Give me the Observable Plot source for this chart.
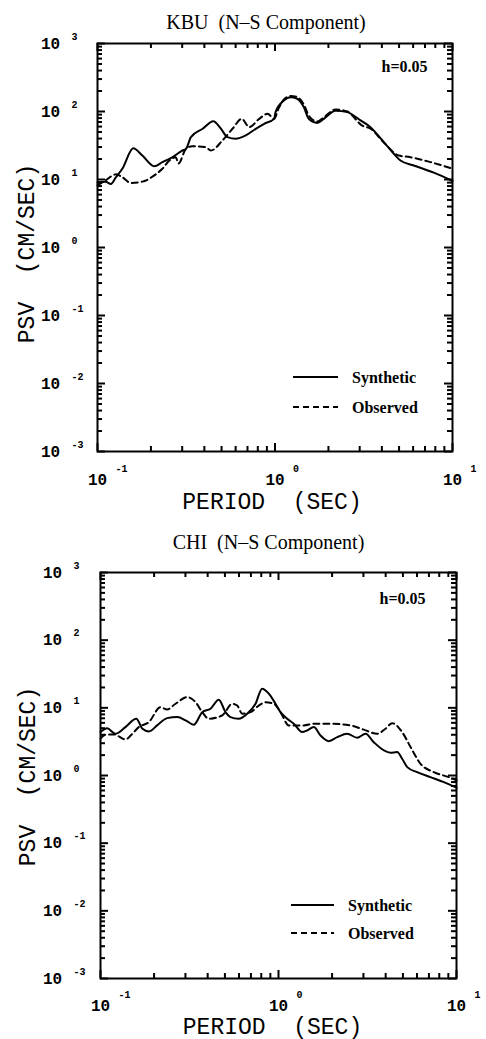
<!DOCTYPE html>
<html><head><meta charset="utf-8">
<script src="https://cdn.jsdelivr.net/npm/d3@7"></script>
<script src="https://cdn.jsdelivr.net/npm/@observablehq/plot@0.6"></script>
<style>
body{margin:0;background:#fff;}
#wrap{width:486px;height:1039px;overflow:hidden;background:#fff;}
#wrap svg{display:block;}
</style>
</head><body><div id="wrap"></div>
<script>
// ---------- data ----------
const kbuSynT = [0.1,0.111,0.119,0.127,0.138,0.159,0.179,0.209,0.232,0.265,0.301,0.315,0.336,0.391,0.449,0.496,0.540,0.601,0.684,0.779,0.869,0.989,1.007,1.122,1.222,1.334,1.453,1.550,1.728,1.884,2.193,2.552,3.033,3.451,4.103,4.67,5.09,6.05,7.85,10];
const kbuSynV = [9.1,9.3,8.6,10.8,14.4,28.8,22.5,15.7,18,21.3,26.7,28.2,41.9,55.7,72,55.7,41.9,39.7,44.4,55.7,66,78,97.8,145,162,154,116,78,68,78,103,98,74,58.8,35.4,23.9,19,16.1,12.6,9.5];
const kbuObsT = [0.1,0.111,0.127,0.138,0.154,0.179,0.209,0.232,0.254,0.276,0.286,0.315,0.343,0.407,0.435,0.506,0.576,0.650,0.716,0.815,0.908,0.989,1.048,1.122,1.222,1.334,1.453,1.550,1.728,1.884,2.193,2.552,3.10,3.451,4.103,4.98,5.79,7.52,10];
const kbuObsV = [8.2,9.7,11.9,10.8,8.9,9.3,11.5,14.4,19,21.3,17.2,28.2,30.9,29.9,26.7,37.5,55.7,78,58.8,78,92.5,78,111,150,169,163,127,87,71,82,107,100,62,56,35,22.5,21.3,18,14.4];

const chiSynT = [0.1,0.109,0.121,0.138,0.159,0.172,0.187,0.208,0.237,0.270,0.301,0.334,0.373,0.415,0.462,0.504,0.537,0.598,0.667,0.743,0.809,0.882,0.962,1.026,1.119,1.219,1.358,1.449,1.579,1.722,1.917,2.137,2.432,2.768,3.083,3.43,3.91,4.26,4.64,4.95,5.29,6.01,7.14,8.49,10];
const chiSynV = [4.38,5.01,4.14,5.19,6.90,4.91,4.48,5.50,7.05,7.30,6.52,5.63,8.63,9.70,13.2,8.63,7.30,6.90,8.18,11.5,19.2,16.2,11.5,8.63,6.90,5.82,4.38,4.63,5.19,3.91,3.22,3.69,4.14,3.61,4.14,3.11,2.35,2.17,2.22,1.77,1.33,1.12,0.946,0.798,0.66];
const chiObsT = [0.1,0.107,0.119,0.138,0.151,0.164,0.187,0.217,0.237,0.264,0.307,0.342,0.373,0.406,0.483,0.550,0.586,0.626,0.697,0.775,0.845,0.942,1.026,1.143,1.274,1.387,1.579,1.96,2.54,3.01,3.58,3.99,4.35,4.95,5.52,6.28,7.46,9.25,10];
const chiObsV = [3.50,4.01,4.05,3.41,4.14,5.19,6.15,10.2,9.46,11.5,14.4,12.1,8.63,6.90,7.73,11.5,10.8,8.18,8.63,10.8,12.1,11.5,8.63,5.50,5.50,5.5,5.82,5.82,5.50,4.76,4.14,4.91,5.94,4.38,2.63,1.49,1.12,0.927,0.847];

// ---------- ticks & labels ----------
const xMajor = [0.1, 1, 10];
const xMinor = [0.2,0.3,0.4,0.5,0.6,0.7,0.8,0.9,2,3,4,5,6,7,8,9];
const yMajor = [1e-3, 1e-2, 1e-1, 1, 10, 100, 1000];
const yMult = [2,3,4,5,6,7,8,9];
const yMinor = yMajor.slice(0, -1).flatMap(d => yMult.map(m => d * m));
const expOf = d => String(Math.round(Math.log10(d)));

const titles = ["KBU  (N\u2013S Component)", "CHI  (N\u2013S Component)"];
const xLabel = "PERIOD  (SEC)";
const yLabel = "PSV  (CM/SEC)";
const dampText = "h=0.05";
const legendNames = ["Synthetic", "Observed"];

const MONO = "'Liberation Mono','DejaVu Sans Mono',monospace";
const SERIF = "'Liberation Serif','DejaVu Serif',serif";
const DASH = "6,4";

// inward ticks on all four sides (frame-spanning tick marks trimmed with insets)
function tickMarks(fw, fh) {
  const out = [];
  for (const [ticks, len] of [[xMajor, 8], [xMinor, 5]]) {
    out.push(Plot.tickX(ticks, {x: d => d, insetTop: fh - len, stroke: "black", strokeWidth: 2}));
    out.push(Plot.tickX(ticks, {x: d => d, insetBottom: fh - len, stroke: "black", strokeWidth: 2}));
  }
  for (const [ticks, len] of [[yMajor, 8], [yMinor, 5]]) {
    out.push(Plot.tickY(ticks, {y: d => d, insetRight: fw - len, stroke: "black", strokeWidth: 2}));
    out.push(Plot.tickY(ticks, {y: d => d, insetLeft: fw - len, stroke: "black", strokeWidth: 2}));
  }
  return out;
}

function legendMark(L) {
  return (index, scales, values, dims) => {
    const g = d3.create("svg:g");
    const xr = dims.width - dims.marginRight;
    const yb = dims.height - dims.marginBottom;
    legendNames.forEach((name, i) => {
      const y = yb + L.y + i * L.step;
      g.append("line").attr("x1", xr + L.x1).attr("x2", xr + L.x2)
        .attr("y1", y).attr("y2", y).attr("stroke", "black").attr("stroke-width", 2)
        .attr("stroke-dasharray", i === 0 ? null : DASH);
      g.append("text").attr("x", xr + L.tx).attr("y", y).attr("dy", "0.35em")
        .attr("text-anchor", "start")
        .attr("font-family", SERIF).attr("font-weight", "bold").attr("font-size", 16)
        .attr("fill", "black").text(name);
    });
    return g.node();
  };
}

function panel(c) {
  const syn = c.synT.map((t, i) => ({T: t, v: c.synV[i]}));
  const obs = c.obsT.map((t, i) => ({T: t, v: c.obsV[i]}));
  const fw = 486 - c.ml - c.mr, fh = c.height - c.mt - c.mb;
  return Plot.plot({
    width: 486, height: c.height,
    marginTop: c.mt, marginRight: c.mr, marginBottom: c.mb, marginLeft: c.ml,
    style: {background: "white", color: "black"},
    x: {type: "log", domain: [0.1, 10], axis: null},
    y: {type: "log", domain: [1e-3, 1e3], axis: null},
    marks: [
      ...tickMarks(fw, fh),
      Plot.frame({stroke: "black", strokeWidth: 2}),
      Plot.line(syn, {x: "T", y: "v", stroke: "black", strokeWidth: 2, curve: "monotone-x"}),
      Plot.line(obs, {x: "T", y: "v", stroke: "black", strokeWidth: 2, strokeDasharray: DASH, curve: "monotone-x"}),
      // x tick labels
      Plot.text(xMajor, {x: d => d, frameAnchor: "bottom", dy: c.xl, text: () => "10", textAnchor: "middle", fontFamily: MONO, fontWeight: "bold", fontSize: 16, lineAnchor: "middle", fill: "black"}),
      Plot.text(xMajor, {x: d => d, frameAnchor: "bottom", dy: c.xl - 11, dx: 18, text: expOf, textAnchor: "start", fontFamily: MONO, fontWeight: "bold", fontSize: 10, lineAnchor: "middle", fill: "black"}),
      // y tick labels
      Plot.text(yMajor, {y: d => d, frameAnchor: "left", dx: c.yl, text: () => "10", textAnchor: "middle", fontFamily: MONO, fontWeight: "bold", fontSize: 16, lineAnchor: "middle", fill: "black"}),
      Plot.text(yMajor, {y: d => d, frameAnchor: "left", dx: c.yl + 21, dy: -7, text: expOf, textAnchor: "start", fontFamily: MONO, fontWeight: "bold", fontSize: 10, lineAnchor: "middle", fill: "black"}),
      // title
      Plot.text([c.title], {frameAnchor: "top", dx: c.tdx, dy: c.tdy, textAnchor: "middle", lineAnchor: "bottom", fontFamily: SERIF, fontSize: 20, fill: "black"}),
      // axis labels
      Plot.text([xLabel], {frameAnchor: "bottom", dx: c.xldx, dy: c.xldy, textAnchor: "middle", lineAnchor: "bottom", fontFamily: MONO, fontSize: 23, fill: "black"}),
      Plot.text([yLabel], {frameAnchor: "left", dx: c.yldx, dy: c.yldy, rotate: -90, textAnchor: "middle", lineAnchor: "middle", fontFamily: MONO, fontSize: 23, fill: "black"}),
      // damping
      Plot.text([dampText], {frameAnchor: "top-right", dx: c.hdx, dy: c.hdy, textAnchor: "end", lineAnchor: "bottom", fontFamily: SERIF, fontWeight: "bold", fontSize: 16, fill: "black"}),
      legendMark(c.leg)
    ]
  });
}

const wrap = document.getElementById("wrap");
wrap.appendChild(panel({
  height: 520, mt: 43, mr: 34, mb: 69, ml: 97,
  synT: kbuSynT, synV: kbuSynV, obsT: kbuObsT, obsV: kbuObsV,
  title: titles[0], tdx: -9, tdy: -15,
  xl: 28, yl: -47,
  xldx: -3, xldy: 57, yldx: -71, yldy: 6,
  hdx: -25, hdy: 28,
  leg: {x1: -159, x2: -114, tx: -100, y: -74, step: 30}
}));
wrap.appendChild(panel({
  height: 519, mt: 52, mr: 30, mb: 61, ml: 100,
  synT: chiSynT, synV: chiSynV, obsT: chiObsT, obsV: chiObsV,
  title: titles[1], tdx: -10, tdy: -24,
  xl: 27, yl: -48,
  xldx: -6, xldy: 55, yldx: -73, yldy: 1,
  hdx: -31, hdy: 31,
  leg: {x1: -165, x2: -122, tx: -108, y: -73, step: 28}
}));
</script>
</body></html>
